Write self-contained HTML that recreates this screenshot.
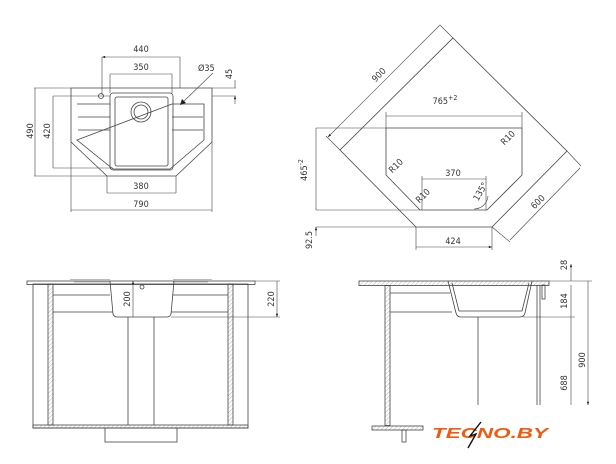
<!DOCTYPE html>
<html><head><meta charset="utf-8"><style>
html,body{margin:0;padding:0;background:#fff}
svg{display:block}
text{font-family:"DejaVu Sans Condensed","DejaVu Sans","Liberation Sans",sans-serif;font-size:9px;fill:#333}
</style></head><body>
<svg width="616" height="464" viewBox="0 0 616 464" xmlns="http://www.w3.org/2000/svg">
<defs>
<marker id="a" viewBox="0 0 8 6" refX="8" refY="3" markerWidth="6" markerHeight="4" orient="auto-start-reverse"><path d="M0,0L8,3L0,6z" fill="#222"/></marker>
<pattern id="h" width="3" height="3" patternUnits="userSpaceOnUse" patternTransform="rotate(45)"><line x1="0" y1="0" x2="0" y2="3" stroke="#999" stroke-width="0.7"/></pattern>
</defs>
<g fill="none" stroke="#444" stroke-width="0.8">
<!-- TOP LEFT -->
<path d="M71,88H212V142L176,176H107L71,142Z"/>
<path d="M77,104H110M172,104H204V140L170,169H113L77,140Z"/>
<rect x="110" y="93" width="63" height="77" rx="3"/>
<rect x="115" y="97" width="53" height="69" rx="2"/>
<circle cx="141" cy="112" r="10"/><circle cx="141" cy="112" r="7"/>
<circle cx="101" cy="96" r="2.5"/>
<path d="M78,117H110M78,130H110M172,117H203M172,130H203"/>
<g stroke-width="0.6">
<path d="M102,57V95M180,57V88M110,74V93M172,74V93M107,176V193M176,176V193M71,142V212M212,142V212M34,88H71M34,176H107M53,96H110M53,168H113M212,96H236M212,88H236"/>
<path d="M102,57H180M110,74H172M107,193H176M71,210H212M35,88V176M53,96V168M235,80V88M235,104V96" marker-start="url(#a)" marker-end="url(#a)"/>
<line x1="213" y1="73" x2="182" y2="103"/>
</g>
<polygon points="180,105 182,99 186,103" fill="#222" stroke="none"/>
<!-- TOP RIGHT -->
<path d="M453,38L567,151L492,227H416L340,150Z"/>
<path d="M386,128H522V175L487,210H420L386,175Z"/>
<g stroke-width="0.6">
<path d="M340,150L326,136M453,38L440,25M567,151L581,166M492,227L510,242M316,128H386M316,210H420M316,227H416M386,128V112M522,128V112M416,227V250M492,227V250M422,210V176M486,210V176"/>
<path d="M328,137L440,25M580,168L510,240M386,116H522M422,179H486M316,128V210M416,247H492" marker-start="url(#a)" marker-end="url(#a)"/>
<path d="M316,236V227" marker-end="url(#a)"/>
<path d="M474,209A14,14 0 0,0 488,196"/>
</g>
<!-- BOTTOM LEFT -->
<rect x="27" y="281" width="228" height="3.5" fill="#fff"/>
<rect x="33" y="284" width="215" height="144"/>
<rect x="48" y="284" width="5" height="141" fill="url(#h)"/>
<rect x="228" y="284" width="5" height="141" fill="url(#h)"/>
<rect x="33" y="425" width="215" height="3" fill="url(#h)"/>
<rect x="105" y="428" width="72" height="14"/>
<path d="M53,295H110M173,295H228M53,312H113M171,312H228"/>
<g stroke-width="0.5" stroke="#777">
<path d="M70,279.5H110M173,279.5H212M74,282H110M173,282H208"/>
</g>
<path d="M110,281L113,314Q114,317 117,317H167Q170,317 171,314L174,281"/>
<path d="M128,317V425M154,317V425"/>
<circle cx="142" cy="287" r="2"/>
<g stroke-width="0.6">
<path d="M255,281H280M171,317H280"/>
<path d="M133,281V317M277,281V317" marker-start="url(#a)" marker-end="url(#a)"/>
</g>
<!-- BOTTOM RIGHT -->
<rect x="359" y="281" width="190" height="4.5" fill="url(#h)"/>
<rect x="385" y="285.5" width="5" height="140" fill="url(#h)"/>
<rect x="372" y="426" width="51" height="4" fill="url(#h)"/>
<rect x="402" y="430" width="4" height="12"/>
<path d="M390,293H450M390,312H452"/>
<path d="M448,281L456,313Q457,317 461,317H520Q524,317 525,313L532,281"/>
<path d="M452,283L459,311H522L529,283"/>
<path d="M478,317V405M537,285V405M540,285V405"/>
<rect x="542" y="285" width="3" height="14"/>
<g stroke-width="0.6">
<path d="M549,281H592M523,317H575"/>
<path d="M571,264V281M571,285V317M571,317V405M588,281V405" marker-start="url(#a)" marker-end="url(#a)"/>
</g>
</g>
<!-- TEXT -->
<text x="141" y="52" text-anchor="middle">440</text>
<text x="141" y="70" text-anchor="middle">350</text>
<text x="198" y="71">Ø35</text>
<text transform="translate(232,74) rotate(-90)" text-anchor="middle">45</text>
<text transform="translate(33,131) rotate(-90)" text-anchor="middle">490</text>
<text transform="translate(50,131) rotate(-90)" text-anchor="middle">420</text>
<text x="141" y="189" text-anchor="middle">380</text>
<text x="141" y="207" text-anchor="middle">790</text>
<text transform="translate(381,77) rotate(-45)" text-anchor="middle">900</text>
<text x="445" y="104" text-anchor="middle">765<tspan font-size="7" dy="-4">+2</tspan></text>
<text transform="translate(510,140) rotate(-45)" text-anchor="middle">R10</text>
<text transform="translate(398,168) rotate(-45)" text-anchor="middle">R10</text>
<text transform="translate(425,198) rotate(-45)" text-anchor="middle">R10</text>
<text x="453" y="176" text-anchor="middle">370</text>
<text transform="translate(483,193) rotate(-60)" text-anchor="middle">135°</text>
<text transform="translate(540,204) rotate(-45)" text-anchor="middle">600</text>
<text transform="translate(307,170) rotate(-90)" text-anchor="middle">465<tspan font-size="7" dy="-4">-2</tspan></text>
<text transform="translate(312,240) rotate(-90)" text-anchor="middle">92.5</text>
<text x="453" y="244" text-anchor="middle">424</text>
<text transform="translate(130,299) rotate(-90)" text-anchor="middle">200</text>
<text transform="translate(274,299) rotate(-90)" text-anchor="middle">220</text>
<text transform="translate(567,265) rotate(-90)" text-anchor="middle">28</text>
<text transform="translate(567,301) rotate(-90)" text-anchor="middle">184</text>
<text transform="translate(567,383) rotate(-90)" text-anchor="middle">688</text>
<text transform="translate(585,360) rotate(-90)" text-anchor="middle">900</text>
<text x="432" y="438" style="font-family:'Liberation Sans',sans-serif;font-size:15px;font-weight:bold;font-style:italic;fill:#f25a10" textLength="116" lengthAdjust="spacingAndGlyphs">TECNO.BY</text>
<path d="M481,422L470,436L476,434L468,448" fill="none" stroke="#111" stroke-width="1.4"/>
</svg>
</body></html>
